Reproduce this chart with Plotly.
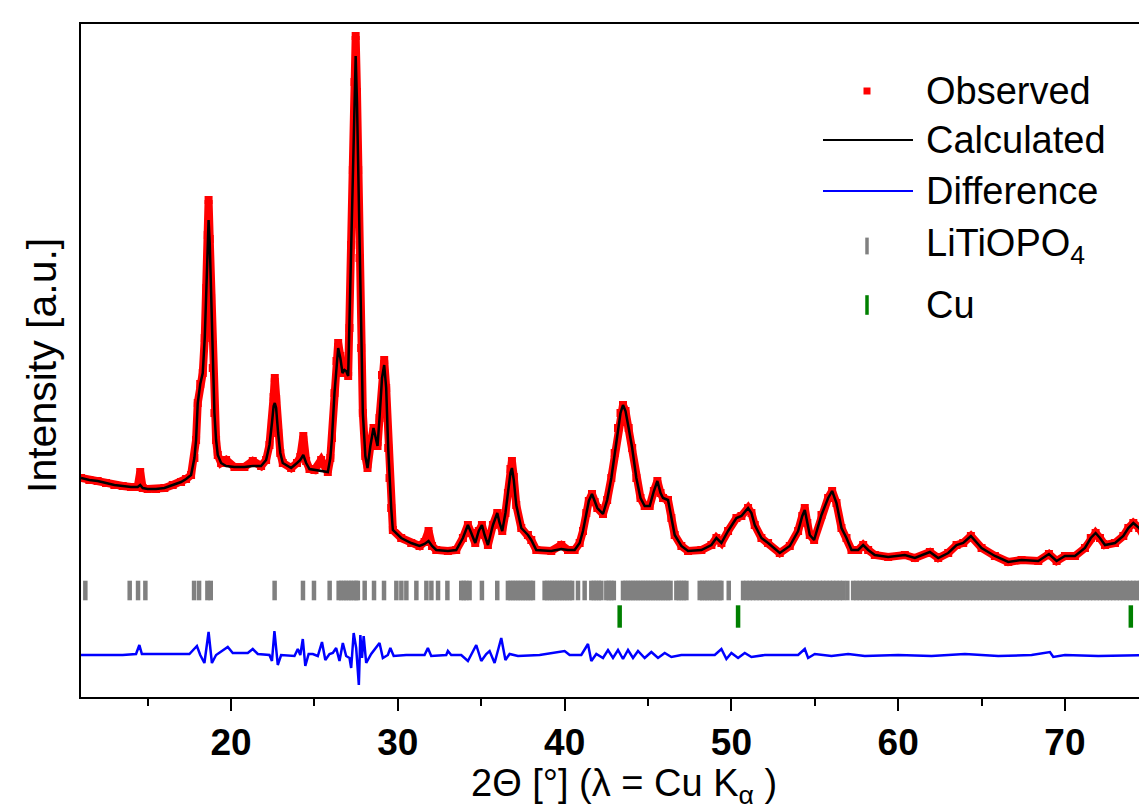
import plotly.graph_objects as go

# ---------------- data ----------------
two_theta = [11.0, 11.5, 12.0, 12.5, 13.0, 13.5, 14.0, 14.4, 14.55, 14.7, 15.0, 15.5, 16.0, 16.5,
             17.0, 17.3, 17.6, 17.8, 17.9, 18.0, 18.15, 18.3, 18.42, 18.52, 18.6, 18.65, 18.72,
             18.8, 18.9, 19.0, 19.1, 19.2, 19.4, 19.7, 20.2, 20.8, 21.3, 21.8, 22.1, 22.3, 22.45,
             22.55, 22.62, 22.7, 22.82, 22.95, 23.1, 23.6, 23.95, 24.15, 24.33, 24.5, 24.7, 25.0,
             25.4, 25.8, 25.95, 26.05, 26.2, 26.32, 26.42, 26.55, 26.68, 26.8, 26.9, 27.02, 27.1,
             27.2, 27.3, 27.4, 27.47, 27.55, 27.62, 27.7, 27.8, 27.9, 28.05, 28.18, 28.35, 28.54,
             28.7, 28.78, 28.9, 29.05, 29.18, 29.3, 29.42, 29.5, 29.6, 29.7, 30.2, 30.8, 31.3,
             31.6, 31.84, 32.05, 32.3, 33.0, 33.5, 33.9, 34.2, 34.4, 34.64, 34.85, 35.04, 35.2,
             35.4, 35.7, 35.96, 36.1, 36.26, 36.45, 36.6, 36.75, 36.84, 36.95, 37.1, 37.4, 37.8,
             38.0, 38.3, 39.2, 39.8, 40.2, 40.6, 40.9, 41.1, 41.3, 41.45, 41.64, 41.8, 41.96,
             42.3, 42.55, 42.8, 43.0, 43.2, 43.35, 43.5, 43.65, 43.84, 44.05, 44.3, 44.55, 44.8,
             45.1, 45.35, 45.56, 45.75, 45.9, 46.2, 46.4, 46.6, 47.0, 47.4, 48.2, 48.8, 49.1,
             49.4, 49.8, 50.3, 50.6, 51.0, 51.2, 51.4, 51.8, 52.2, 52.9, 53.5, 54.0, 54.25, 54.4,
             54.55, 54.7, 54.96, 55.4, 55.8, 56.04, 56.3, 56.6, 56.9, 57.2, 57.6, 57.9, 58.2,
             58.6, 59.4, 60.4, 61.0, 61.9, 62.4, 63.0, 63.5, 63.9, 64.36, 65.0, 65.8, 66.6, 67.4,
             68.4, 69.04, 69.5, 70.0, 70.6, 71.2, 71.55, 71.84, 72.1, 72.4, 73.0, 73.5, 73.8,
             74.1, 74.45, 74.8, 75.4]

calculated = [219, 217, 216, 214, 212, 211, 210, 210, 212, 209, 208, 208, 209, 212,
              215, 218, 222, 239, 257, 294, 313, 324, 359, 409, 459, 477, 454,
              399, 329, 284, 257, 242, 234, 231, 230, 230, 231, 231, 237, 252, 274,
              291, 294, 289, 264, 244, 234, 229, 234, 237, 242, 234, 228, 227,
              226, 225, 239, 259, 304, 334, 349, 339, 324, 327, 326, 321, 369,
              449, 519, 599, 641, 594, 524, 439, 349, 284, 241, 229, 251, 269,
              257, 251, 279, 319, 332, 309, 249, 219, 189, 167, 159, 154, 151,
              153, 156, 151, 147, 146, 147, 159, 172, 164, 154, 166, 172, 162,
              152, 172, 184, 174, 166, 184, 204, 224, 229, 217, 192, 169, 162,
              157, 147, 146, 148, 147, 147, 154, 166, 184, 196, 203, 195, 189,
              183, 197, 219, 244, 269, 284, 292, 286, 269, 249, 219, 199, 191,
              191, 206, 216, 204, 199, 197, 179, 162, 151, 146, 147, 152, 159,
              154, 166, 179, 181, 189, 184, 172, 159, 154, 144, 151, 166, 181, 187,
              174, 162, 157, 182, 199, 206, 194, 169, 159, 147, 147, 152, 147,
              142, 140, 142, 139, 145, 139, 144, 152, 154, 161, 149, 141, 135, 137,
              136, 143, 136, 141, 141, 149, 159, 164, 159, 152, 154, 161, 169,
              174, 169, 159, 150]

observed = [219, 217, 216, 214, 212, 211, 210, 210, 225, 209, 208, 208, 209, 212,
            215, 218, 222, 239, 257, 294, 313, 324, 359, 409, 462, 497, 458,
            399, 329, 284, 257, 242, 234, 237, 230, 230, 236, 231, 237, 252, 274,
            300, 319, 298, 264, 244, 234, 229, 234, 240, 261, 236, 228, 227,
            237, 225, 239, 259, 304, 336, 354, 341, 324, 327, 326, 321, 369,
            452, 527, 615, 661, 605, 527, 439, 349, 284, 241, 229, 251, 269,
            257, 251, 279, 322, 337, 309, 249, 219, 189, 167, 159, 154, 151,
            155, 166, 151, 147, 146, 147, 159, 172, 164, 154, 166, 172, 162,
            152, 172, 184, 174, 166, 184, 204, 228, 236, 220, 192, 169, 162,
            157, 147, 146, 152, 147, 147, 154, 166, 184, 196, 203, 195, 189,
            183, 197, 219, 244, 269, 284, 292, 286, 269, 249, 219, 199, 191,
            191, 206, 216, 204, 199, 197, 179, 162, 151, 146, 147, 152, 159,
            154, 166, 179, 181, 189, 184, 172, 159, 154, 144, 151, 166, 181, 189,
            174, 162, 157, 182, 199, 206, 194, 169, 159, 147, 147, 152, 147,
            142, 140, 142, 139, 145, 139, 144, 152, 154, 161, 149, 141, 135, 137,
            136, 143, 136, 141, 141, 149, 159, 164, 159, 152, 154, 161, 169,
            174, 169, 159, 150]

diff_theta = [11.0, 13.5, 14.3, 14.5, 14.65, 17.5, 17.95, 18.15, 18.4, 18.65, 18.85, 19.1, 19.8,
              20.1, 21.0, 21.3, 21.6, 22.3, 22.45, 22.6, 22.8, 23.0, 23.8, 24.0, 24.15, 24.3,
              24.45, 24.65, 24.9, 25.2, 25.45, 25.65, 25.9, 26.1, 26.3, 26.5, 26.7, 26.9, 27.1,
              27.2, 27.35, 27.5, 27.66, 27.75, 27.85, 27.95, 28.1, 28.4, 28.9, 29.1, 29.4,
              29.55, 29.75, 30.5, 31.6, 31.8, 32.0, 32.9, 33.0, 33.2, 33.8, 34.2, 34.7, 35.0,
              35.3, 35.5, 35.8, 36.2, 36.45, 36.7, 37.2, 38.5, 40.0, 40.3, 41.0, 41.4, 41.6,
              41.9, 42.3, 42.6, 42.9, 43.2, 43.5, 43.8, 44.1, 44.4, 44.8, 45.2, 45.6, 46.0,
              46.4, 47.0, 48.5, 49.0, 49.4, 49.7, 50.0, 50.4, 50.8, 51.2, 52.0, 53.0, 54.0,
              54.4, 54.6, 55.0, 56.0, 57.0, 58.0, 60.0, 62.0, 64.0, 66.0, 68.0, 69.1, 69.3,
              70.0, 72.0, 74.0, 75.4]
difference = [42, 42, 43, 52, 43, 43, 51, 42, 34, 65, 34, 42, 50,
              44, 44, 48, 43, 42, 36, 66, 32, 42, 41, 48, 42, 58,
              31, 43, 43, 41, 55, 37, 43, 44, 49, 36, 54, 41, 39,
              29, 64, 49, 12, 62, 39, 61, 34, 43, 54, 39, 42,
              49, 41, 42, 42, 49, 41, 42, 46, 42, 42, 36, 52, 36,
              43, 46, 34, 59, 37, 43, 41, 42, 46, 42, 42, 53, 36,
              43, 39, 47, 39, 47, 38, 47, 39, 46, 39, 45, 39, 44,
              40, 42, 42, 42, 48, 38, 44, 39, 44, 40, 42, 42, 42,
              48, 39, 43, 41, 43, 41, 42, 41, 43, 41, 42, 45, 40,
              42, 41, 42, 42]

litiopo4_reflections = [11.26, 13.92, 14.42, 14.86, 17.78, 18.08, 18.58, 18.78, 22.61, 24.31,
                        24.97, 25.91, 26.45, 26.6, 26.75, 26.9, 27.05, 27.2, 27.35, 27.5, 27.6,
                        28.01, 28.57, 29.17, 29.91, 30.21, 30.51, 31.11, 31.71, 32.01, 32.41,
                        32.97, 33.8, 33.95, 34.1, 34.3, 35.04, 35.96,
                        36.6, 36.75, 36.9, 37.05, 37.2, 37.35, 37.5, 37.65, 37.8, 37.95, 38.1,
                        38.8, 38.95, 39.1, 39.25, 39.4, 39.55, 39.7, 39.85, 40.0, 40.15, 40.3,
                        40.45, 40.8, 41.2, 41.6, 41.75, 41.9, 42.05, 42.2, 42.5, 42.65, 42.8,
                        42.95, 43.5, 43.65, 43.8, 43.95, 44.1, 44.25, 44.4, 44.55, 44.7, 44.85,
                        45.0, 45.15, 45.3, 45.45, 45.6, 45.75, 45.9, 46.05, 46.2, 46.35, 46.7,
                        46.85, 47.0, 47.15, 47.3, 48.1, 48.25, 48.4, 48.55, 48.7, 48.85, 49.0,
                        49.15, 49.3, 49.4, 49.84,
                        50.7, 50.9, 51.1, 51.3, 51.5, 51.7, 51.9, 52.1, 52.3, 52.5, 52.7, 52.9,
                        53.1, 53.3, 53.5, 53.7, 53.9, 54.1, 54.3, 54.5, 54.7, 54.9, 55.1, 55.3,
                        55.5, 55.7, 55.9, 56.1, 56.3, 56.5, 56.7, 56.95,
                        57.3, 57.5, 57.7, 57.9, 58.1, 58.3, 58.5, 58.7, 58.9, 59.1, 59.3, 59.5,
                        59.7, 59.9, 60.1, 60.3, 60.5, 60.7, 60.9, 61.1, 61.3, 61.5, 61.7, 61.9,
                        62.1, 62.3, 62.5, 62.7, 62.9, 63.1, 63.3, 63.5, 63.7, 63.9, 64.1, 64.3,
                        64.5, 64.7, 64.9, 65.1, 65.3, 65.5, 65.7, 65.9, 66.1, 66.3, 66.5, 66.7,
                        66.9, 67.1, 67.3, 67.5, 67.7, 67.9, 68.1, 68.3, 68.5, 68.7, 68.9, 69.1,
                        69.3, 69.5, 69.7, 69.9, 70.1, 70.3, 70.5, 70.7, 70.9, 71.1, 71.3, 71.5,
                        71.7, 71.9, 72.1, 72.3, 72.5, 72.7, 72.9, 73.1, 73.3, 73.5, 73.7, 73.9,
                        74.1, 74.3, 74.5, 74.7, 74.9, 75.1, 75.3]
cu_reflections = [43.3, 50.4, 73.95]

legend_labels = ["Observed", "Calculated", "Difference", "LiTiOPO<sub>4</sub>", "Cu"]
x_ticks = [20, 30, 40, 50, 60, 70]

# ---------------- layout constants ----------------
W, H = 1147, 808
ML, MR, MT, MB = 73, 0, 16, 119
ROW_LITIOPO4 = 106.5   # vertical position of the reflection tick rows (intensity units)
ROW_CU = 80.5
FONT = "Liberation Sans, Arial, sans-serif"
RED, BLACK, BLUE, GRAY, GREEN = "#FF0000", "#000000", "#0000FF", "#808080", "#008000"

fig = go.Figure()

fig.add_trace(go.Scatter(x=two_theta, y=observed, mode="lines+markers",
                         line=dict(color=RED, width=8),
                         marker=dict(symbol="square", size=8, color=RED),
                         showlegend=False, hoverinfo="skip"))
fig.add_trace(go.Scatter(x=two_theta, y=calculated, mode="lines",
                         line=dict(color=BLACK, width=2.5),
                         showlegend=False, hoverinfo="skip"))
fig.add_trace(go.Scatter(x=diff_theta, y=difference, mode="lines",
                         line=dict(color=BLUE, width=2.5),
                         showlegend=False, hoverinfo="skip"))
fig.add_trace(go.Scatter(x=litiopo4_reflections, y=[ROW_LITIOPO4] * len(litiopo4_reflections),
                         mode="markers",
                         marker=dict(symbol="line-ns", size=14, line=dict(color=GRAY, width=4.5)),
                         showlegend=False, hoverinfo="skip"))
fig.add_trace(go.Scatter(x=cu_reflections, y=[ROW_CU] * len(cu_reflections), mode="markers",
                         marker=dict(symbol="line-ns", size=16, line=dict(color=GREEN, width=4.5)),
                         showlegend=False, hoverinfo="skip"))

# ---------------- hand-drawn legend on an overlay [0,1] axis pair ----------------
def fx(px):
    return (px - ML) / (W - ML - MR)

def fy(py):
    return (H - MB - py) / (H - MT - MB)

rows = [fy(83), fy(132), fy(183), fy(238), fy(297)]
mark_x = fx(859)
line_x = [fx(815), fx(905)]
text_x = fx(916)

fig.add_trace(go.Scatter(x=[mark_x], y=[rows[0]], xaxis="x2", yaxis="y2", mode="markers",
                         marker=dict(symbol="square", size=7, color=RED),
                         showlegend=False, hoverinfo="skip"))
fig.add_trace(go.Scatter(x=line_x, y=[rows[1]] * 2, xaxis="x2", yaxis="y2", mode="lines",
                         line=dict(color=BLACK, width=2), showlegend=False, hoverinfo="skip"))
fig.add_trace(go.Scatter(x=line_x, y=[rows[2]] * 2, xaxis="x2", yaxis="y2", mode="lines",
                         line=dict(color=BLUE, width=2), showlegend=False, hoverinfo="skip"))
fig.add_trace(go.Scatter(x=[mark_x], y=[rows[3]], xaxis="x2", yaxis="y2", mode="markers",
                         marker=dict(symbol="line-ns", size=12, line=dict(color=GRAY, width=3.5)),
                         showlegend=False, hoverinfo="skip"))
fig.add_trace(go.Scatter(x=[mark_x], y=[rows[4]], xaxis="x2", yaxis="y2", mode="markers",
                         marker=dict(symbol="line-ns", size=14, line=dict(color=GREEN, width=3.5)),
                         showlegend=False, hoverinfo="skip"))

annotations = []
for lbl, ry in zip(legend_labels, rows):
    annotations.append(dict(x=text_x, y=ry, xref="paper", yref="paper", text=lbl,
                            showarrow=False, xanchor="left", yanchor="middle",
                            font=dict(family=FONT, size=38, color=BLACK)))
# axis titles
annotations.append(dict(x=fx(616), y=fy(778), xref="paper", yref="paper",
                        text="2\u0398 [\u00b0] (\u03bb = Cu K<sub>\u03b1</sub> )",
                        showarrow=False, xanchor="center", yanchor="middle",
                        font=dict(family=FONT, size=38, color=BLACK)))
annotations.append(dict(x=fx(34), y=fy(358), xref="paper", yref="paper",
                        text="Intensity [a.u.]", textangle=-90,
                        showarrow=False, xanchor="center", yanchor="middle",
                        font=dict(family=FONT, size=41, color=BLACK)))

fig.update_layout(
    width=W, height=H,
    margin=dict(l=ML, r=MR, t=MT, b=MB, pad=0),
    paper_bgcolor="white", plot_bgcolor="white",
    showlegend=False,
    annotations=annotations,
    xaxis=dict(range=[11.0, 75.4], tickvals=x_ticks, ticktext=[str(v) for v in x_ticks],
               ticks="outside", ticklen=12, tickwidth=2, tickcolor=BLACK,
               minor=dict(dtick=5, tick0=0, ticks="outside", ticklen=7, tickwidth=2,
                          tickcolor=BLACK),
               showline=True, linewidth=2, linecolor=BLACK, mirror=True,
               showgrid=False, zeroline=False,
               tickfont=dict(family=FONT, size=37, color=BLACK, weight="bold")),
    yaxis=dict(range=[0, 673], showticklabels=False, ticks="",
               showline=True, linewidth=2, linecolor=BLACK, mirror=False,
               showgrid=False, zeroline=False),
    xaxis2=dict(overlaying="x", range=[0, 1], showticklabels=False, showgrid=False,
                zeroline=False, showline=False, ticks=""),
    yaxis2=dict(overlaying="y", range=[0, 1], showticklabels=False, showgrid=False,
                zeroline=False, showline=False, ticks=""),
)

fig.write_html("out.html")
